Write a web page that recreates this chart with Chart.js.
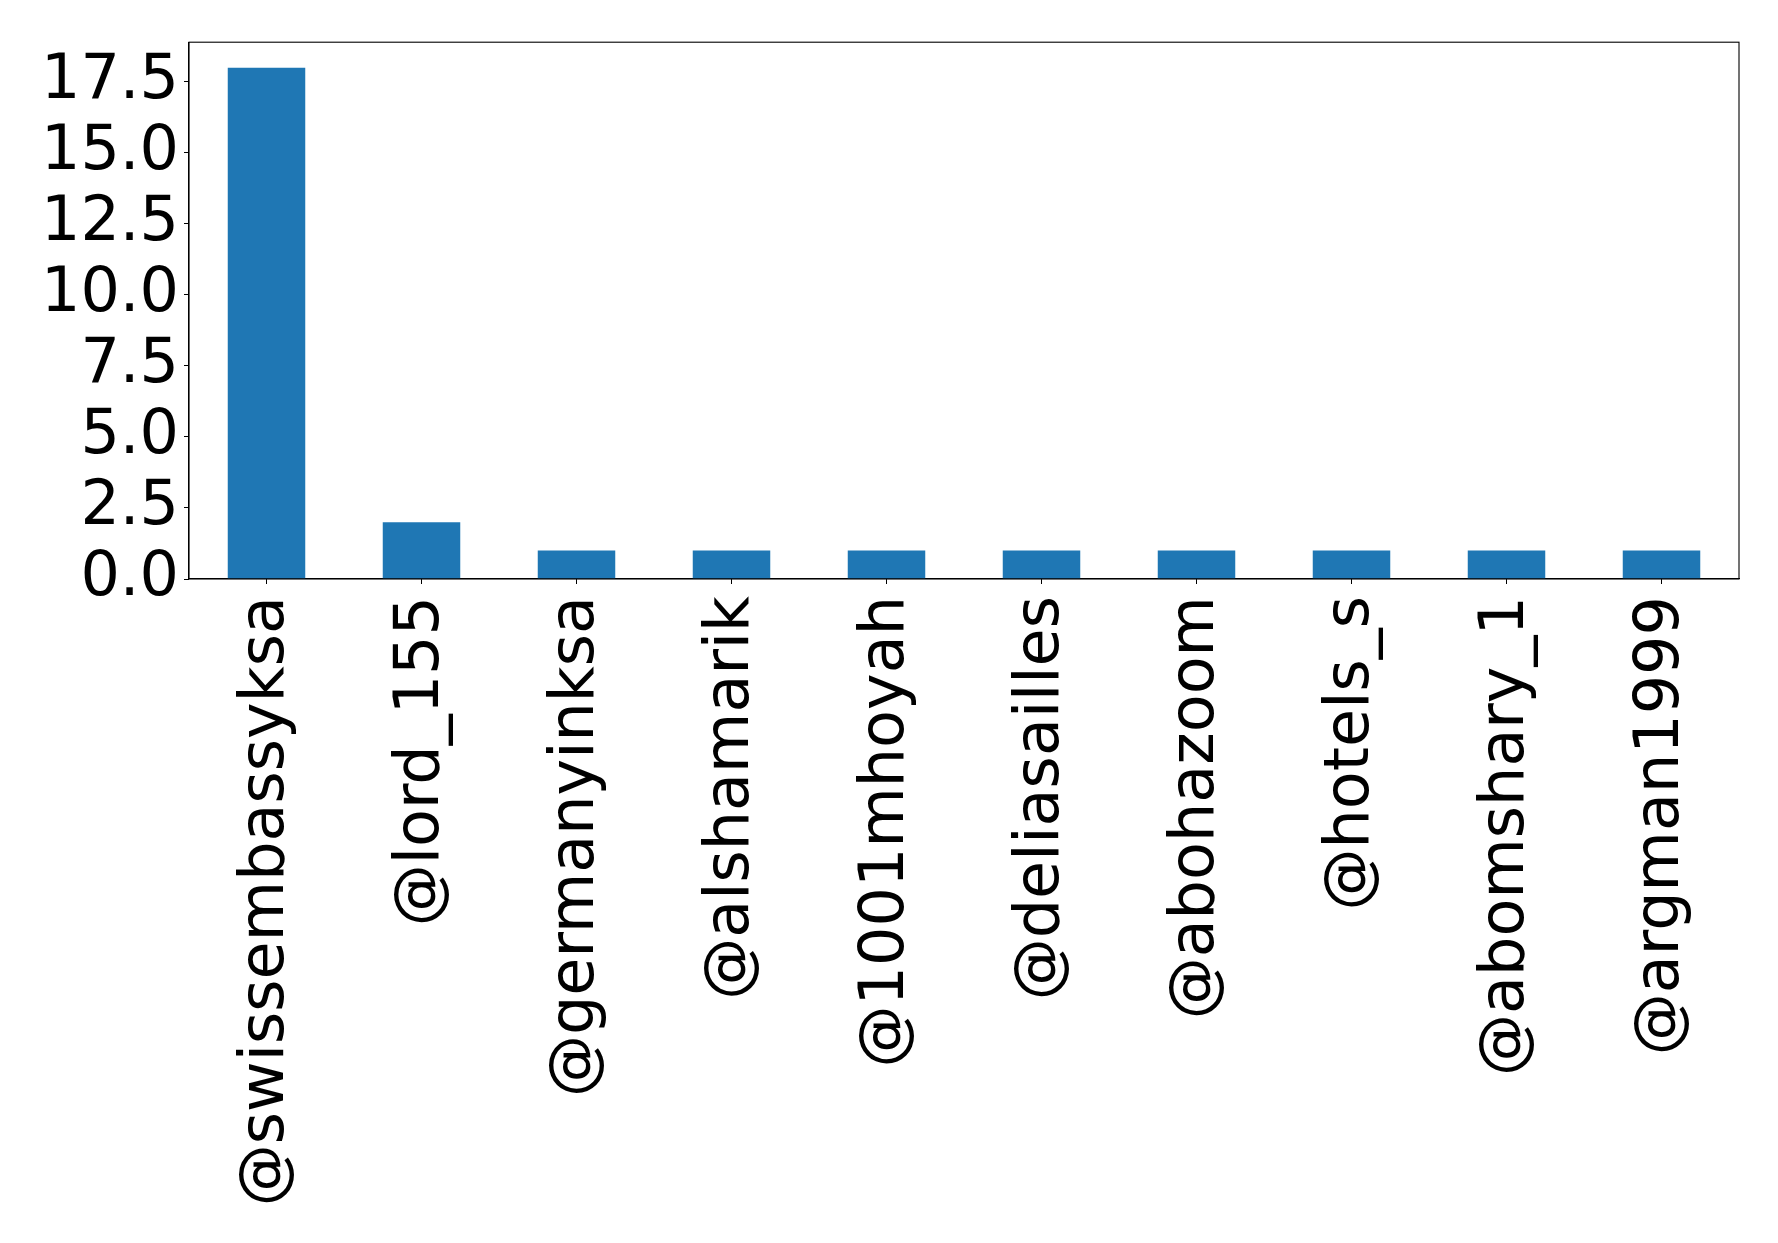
<!DOCTYPE html>
<html>
<head>
<meta charset="utf-8">
<script src="https://cdn.jsdelivr.net/npm/chart.js@4/dist/chart.umd.min.js"></script>
<style>
  body { margin: 0; background: #fff; }
  #wrap { width: 1778px; height: 1243px; }
</style>
</head>
<body>
<div id="wrap"><canvas id="chart"></canvas></div>
<script>
const categories = ['@swissembassyksa', '@lord_155', '@germanyinksa', '@alshamarik', '@1001mhoyah',
    '@deliasailles', '@abohazoom', '@hotels_s', '@abomshary_1', '@argman1999'];
const counts = [18, 2, 1, 1, 1, 1, 1, 1, 1, 1];
const yTicks = [0, 2.5, 5, 7.5, 10, 12.5, 15, 17.5];
const yMax = 18.9;

// box around the plot area, like the matplotlib frame
const frame = {
    id: 'frame',
    afterDraw(chart) {
        const { ctx, chartArea: a } = chart;
        ctx.save();
        ctx.strokeStyle = '#000';
        ctx.lineWidth = 1.1;
        ctx.strokeRect(a.left, a.top, a.right - a.left, a.bottom - a.top);
        ctx.restore();
    }
};

new Chart(document.getElementById('chart'), {
    type: 'bar',
    data: {
        labels: categories,
        datasets: [{
            data: counts,
            backgroundColor: '#1f77b4',
            barPercentage: 0.5,
            categoryPercentage: 1.0
        }]
    },
    options: {
        responsive: true,
        maintainAspectRatio: false,
        animation: false,
        layout: { padding: { top: 40, right: 39, left: 0, bottom: 0 } },
        plugins: { legend: { display: false }, tooltip: { enabled: false } },
        scales: {
            x: {
                offset: true,
                grid: { drawOnChartArea: false, drawTicks: true, tickLength: 5, color: '#000', offset: false },
                border: { display: true, color: '#000', width: 1.1 },
                ticks: {
                    autoSkip: false,
                    minRotation: 90,
                    maxRotation: 90,
                    padding: 12,
                    color: '#000',
                    font: { family: 'DejaVu Sans', size: 62 }
                },
                afterFit(scale) { scale.height = 664; }
            },
            y: {
                min: 0,
                max: yMax,
                grid: { drawOnChartArea: false, drawTicks: true, tickLength: 5, color: '#000' },
                border: { display: true, color: '#000', width: 1.1 },
                afterBuildTicks(scale) { scale.ticks = yTicks.map(v => ({ value: v })); },
                ticks: {
                    autoSkip: false,
                    padding: 5,
                    color: '#000',
                    font: { family: 'DejaVu Sans', size: 62 },
                    callback: v => Number(v).toFixed(1)
                },
                afterFit(scale) { scale.width = 189; }
            }
        }
    },
    plugins: [frame]
});
</script>
</body>
</html>
